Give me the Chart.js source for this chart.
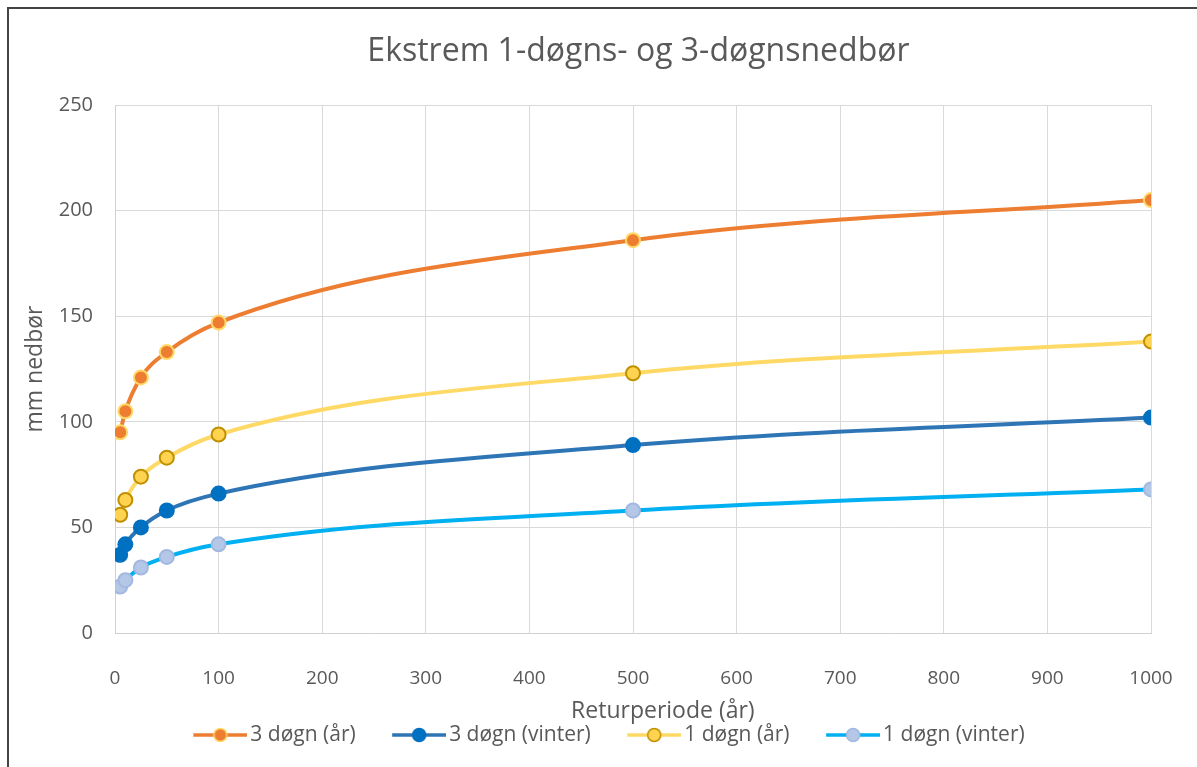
<!DOCTYPE html>
<html>
<head>
<meta charset="utf-8">
<script src="https://cdn.jsdelivr.net/npm/chart.js@4"></script>
<style>
  html, body { margin: 0; padding: 0; background: #fff; overflow: hidden; width: 1197px; height: 767px; }
  #frame { position: absolute; left: 7px; top: 7px; width: 1190px; height: 760px;
           border-top: 2px solid #444; border-left: 2px solid #444; box-sizing: border-box; }
  #wrap { position: absolute; left: 0; top: 0; width: 1197px; height: 767px; }
</style>
</head>
<body>
<div id="frame"></div>
<div id="wrap"><canvas id="chart"></canvas></div>
<script>
// return periods (years)
const returnPeriods = [5, 10, 25, 50, 100, 500, 1000];

// mm precipitation
const threeDayYear = [95, 105, 121, 133, 147, 186, 205];
const threeDayWinter = [37, 42, 50, 58, 66, 89, 102];
const oneDayYear = [56, 63, 74, 83, 94, 123, 138];
const oneDayWinter = [22, 25, 31, 36, 42, 58, 68];

const seriesNames = ['3 døgn (år)', '3 døgn (vinter)', '1 døgn (år)', '1 døgn (vinter)'];

const FONT = "'Open Sans', sans-serif";
const GREY = '#595959';

// Excel-like legend glyph: short line with a marker in the middle
function legendGlyph(lineColor, fill, border) {
    const c = document.createElement('canvas');
    c.width = 94;
    c.height = 18;
    const g = c.getContext('2d');
    g.strokeStyle = lineColor;
    g.lineWidth = 3.5;
    g.beginPath();
    g.moveTo(40, 9);
    g.lineTo(94, 9);
    g.stroke();
    g.beginPath();
    g.arc(67, 9, 6.5, 0, Math.PI * 2);
    g.fillStyle = fill;
    g.fill();
    g.lineWidth = 1.5;
    g.strokeStyle = border;
    g.stroke();
    return c;
}

const styles = [
    { line: '#ED7D31', fill: '#ED7D31', border: '#FFD966' },
    { line: '#2E75B6', fill: '#0070C0', border: '#0070C0' },
    { line: '#FFD966', fill: '#FFD34F', border: '#BF9000' },
    { line: '#00B0F0', fill: '#B4C7E7', border: '#A3B8E0' }
];

function toPoints(values) {
    return returnPeriods.map((x, i) => ({ x: x, y: values[i] }));
}

const seriesValues = [threeDayYear, threeDayWinter, oneDayYear, oneDayWinter];

const datasets = seriesValues.map((vals, i) => ({
    label: seriesNames[i],
    data: toPoints(vals),
    borderColor: styles[i].line,
    backgroundColor: styles[i].fill,
    pointBackgroundColor: styles[i].fill,
    pointBorderColor: styles[i].border,
    pointBorderWidth: 2,
    pointRadius: 7,
    borderWidth: 4,
    cubicInterpolationMode: 'monotone',
    fill: false
}));

const ctx = document.getElementById('chart').getContext('2d');

new Chart(ctx, {
    type: 'line',
    data: { datasets: datasets },
    options: {
        responsive: true,
        maintainAspectRatio: false,
        animation: false,
        layout: { padding: { left: 0, right: 11.5, top: 0, bottom: 11.5 } },
        scales: {
            x: {
                type: 'linear',
                min: 0,
                max: 1000,
                afterFit: s => { s.height = 87.5; },
                ticks: { stepSize: 100, padding: 4, color: GREY, font: { family: FONT, size: 19 },
                         callback: v => String(v) },
                grid: { color: '#d9d9d9', drawTicks: true, tickLength: 30, tickColor: 'rgba(0,0,0,0)' },
                border: { color: '#d0d0d0' },
                title: {
                    display: true,
                    // leading spaces push the centred title right, as in the original
                    text: ' '.repeat(10) + 'Returperiode (år)',
                    color: GREY,
                    font: { family: FONT, size: 23, lineHeight: 0.8 },
                    padding: { top: 0, bottom: 0.3 }
                }
            },
            y: {
                min: 0,
                max: 250,
                afterFit: s => { s.width = 115; },
                ticks: { stepSize: 50, padding: 22, color: GREY, font: { family: FONT, size: 20 } },
                grid: { color: '#d9d9d9', drawTicks: false },
                border: { color: '#d0d0d0' },
                title: {
                    display: true,
                    text: 'mm nedbør',
                    color: GREY,
                    font: { family: FONT, size: 23, lineHeight: 1.2 },
                    padding: { top: 22, bottom: 0 }
                }
            },
            // empty right-hand axis that only reserves the margin on the right
            spacer: {
                position: 'right',
                min: 0,
                max: 1,
                afterFit: s => { s.width = 34.5; },
                ticks: { display: false },
                grid: { display: false },
                border: { display: false }
            }
        },
        plugins: {
            title: {
                display: true,
                text: ' '.repeat(11) + 'Ekstrem 1-døgns- og 3-døgnsnedbør',
                color: GREY,
                font: { family: FONT, size: 32, weight: 'normal', lineHeight: 1.2 },
                padding: { top: 33, bottom: 33.6 }
            },
            legend: {
                position: 'bottom',
                labels: {
                    usePointStyle: true,
                    pointStyleWidth: 79,
                    padding: 4,
                    color: GREY,
                    font: { family: FONT, size: 21 },
                    generateLabels: chart => chart.data.datasets.map((ds, i) => ({
                        text: ds.label,
                        datasetIndex: i,
                        fontColor: GREY,
                        pointStyle: legendGlyph(styles[i].line, styles[i].fill, styles[i].border),
                        hidden: false,
                        lineWidth: 0
                    }))
                }
            },
            tooltip: { enabled: false }
        }
    }
});
</script>
</body>
</html>
